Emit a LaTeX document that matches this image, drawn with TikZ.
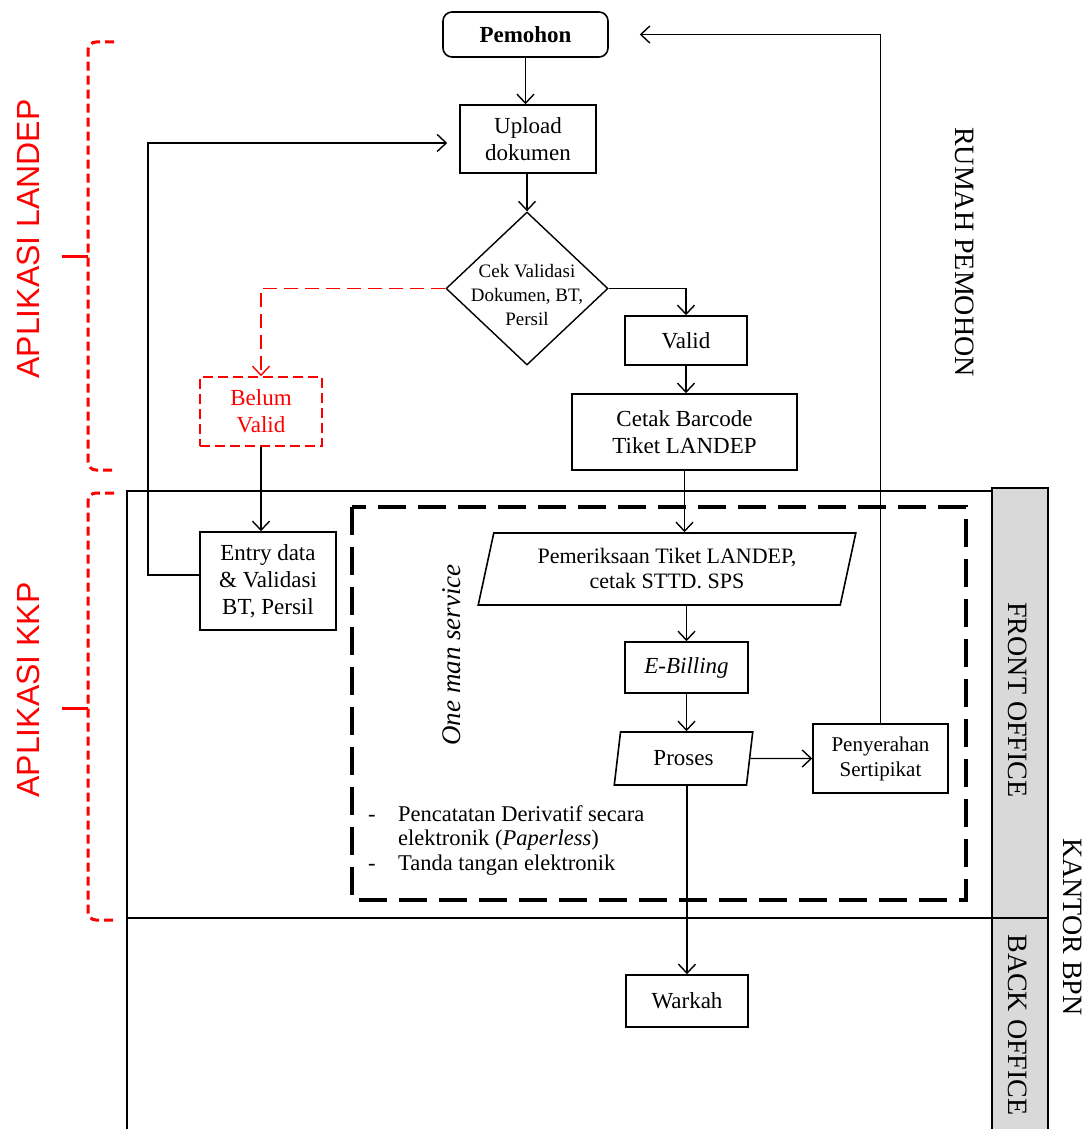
\documentclass[tikz,border=0pt]{standalone}
\usepackage{fontspec}
\setmainfont{Liberation Serif}
\newfontfamily\arialf{Liberation Sans}
\usetikzlibrary{shapes.geometric,arrows.meta}
\newcommand\fsz[2]{\fontsize{#1}{#2}\selectfont}
\begin{document}
\begin{tikzpicture}[x=1pt,y=-1pt,
  box/.style={draw, line width=1.6pt, inner sep=0pt, align=center, font=\fsz{23}{27}},
  rbox/.style={draw=red, text=red, line width=1.6pt, dash pattern=on 10pt off 5pt, inner sep=0pt, align=center, font=\fsz{23}{27}},
  para/.style={draw, line width=1.6pt, trapezium, trapezium stretches=true, inner sep=0pt, align=center, font=\fsz{22}{25}},
  arr/.style={line width=1.4pt, -{Straight Barb[length=9pt,width=17pt,line width=1.4pt]}},
  rarr/.style={arr, red, dash pattern=on 14pt off 7pt},
  lane/.style={line width=1.8pt},
  brk/.style={red, line width=3pt, dash pattern=on 9pt off 5pt, rounded corners=8pt},
  vlab/.style={font=\fsz{28}{32}, inner sep=0pt},
  alab/.style={red, font=\arialf\fsz{32}{36}, rotate=90, inner sep=0pt}
]
\useasboundingbox (0,0) rectangle (1091,1129);

% lanes
\draw[lane] (127,1135) -- (127,491) -- (992,491);
\draw[lane] (127,918) -- (992,918);
\draw[lane, fill=black!15] (992,488) rectangle (1048,1140);
\draw[lane] (992,918) -- (1048,918);

% one man service box
\draw[line width=3.2pt, dash pattern=on 28pt off 12pt] (352,507) rectangle (966,900);
\node[font=\itshape\fsz{27}{30}, rotate=90, inner sep=0pt] (oms) at (452,655) {One man service};

% brackets
\draw[brk] (114,42) -- (88,42) -- (88,470) -- (114,470);
\draw[red, line width=3pt] (88,256) -- (62,256);
\draw[brk] (114,493) -- (88,493) -- (88,920) -- (114,920);
\draw[red, line width=3pt] (88,708) -- (62,708);
\node[alab] (landep) at (28,239) {APLIKASI LANDEP};
\node[alab] (kkp) at (28,690) {APLIKASI KKP};

% side labels
\node[vlab, rotate=-90] (rumah) at (965,252) {RUMAH PEMOHON};
\node[vlab, rotate=-90] (front) at (1018,700) {FRONT OFFICE};
\node[vlab, rotate=-90] (back) at (1018,1025) {BACK OFFICE};
\node[vlab, rotate=-90] (kantor) at (1073,927) {KANTOR BPN};

% nodes
\node[box, rounded corners=9pt, minimum width=165pt, minimum height=45pt, font=\bfseries\fsz{23}{27}] (pemohon) at (525.5,34.5) {Pemohon};
\node[box, minimum width=136pt, minimum height=68pt] (upload) at (528,139) {Upload\\dokumen};
\node[diamond, draw, line width=1.4pt, minimum width=162pt, minimum height=153pt, inner sep=0pt] (dia) at (527,288.5) {};
\node[inner sep=0pt, align=center, font=\fsz{19}{24}] (diatext) at (527,295) {Cek Validasi\\Dokumen, BT,\\Persil};
\node[box, minimum width=122pt, minimum height=49pt] (valid) at (686,340.5) {Valid};
\node[box, minimum width=225pt, minimum height=76pt] (cetak) at (684.5,432) {Cetak Barcode\\Tiket LANDEP};
\node[rbox, minimum width=122pt, minimum height=69pt] (belum) at (261,411.5) {Belum\\Valid};
\node[box, minimum width=136pt, minimum height=98pt] (entry) at (268,581) {Entry data\\\& Validasi\\BT, Persil};
\node[para, trapezium left angle=74, trapezium right angle=106, minimum width=378pt, minimum height=72pt] (pem) at (667,569) {Pemeriksaan Tiket LANDEP,\\cetak STTD. SPS};
\node[box, minimum width=123pt, minimum height=51pt, font=\itshape\fsz{23}{27}] (ebill) at (686.5,667.5) {E-Billing};
\node[para, trapezium left angle=79, trapezium right angle=101, minimum width=139pt, minimum height=53pt, font=\fsz{23}{27}] (proses) at (683.5,758.5) {Proses};
\node[box, minimum width=135pt, minimum height=69pt, font=\fsz{21}{25}] (pen) at (880.5,758.5) {Penyerahan\\Sertipikat};
\node[box, minimum width=122pt, minimum height=52pt] (warkah) at (687,1001) {Warkah};
\node[anchor=north west, inner sep=0pt, font=\fsz{22.5}{24.5}, align=left] (bul) at (368,804)
  {\begin{tabular}{@{}p{30pt}@{}l@{}}
  - & Pencatatan Derivatif secara\\
    & elektronik (\textit{Paperless})\\
  - & Tanda tangan elektronik
  \end{tabular}};

% connectors
\coordinate (loopx) at (148,300);
\draw[arr] (pemohon.south) -- (pemohon.south |- upload.north);
\draw[arr] (upload.south -| dia.north) -- (dia.north);
\draw[arr] (dia.east) -| (valid.north);
\draw[rarr] (dia.west) -| (belum.north);
\draw[arr] (valid.south) -- (valid.south |- cetak.north);
\draw[arr] (belum.south) -- (belum.south |- entry.north);
\draw[arr, shorten >=12pt] ([yshift=6pt]entry.west) -| (loopx) |- ([yshift=-4pt]upload.west);
\draw[arr] (cetak.south) -- (cetak.south |- pem.north);
\draw[arr] (ebill.north |- pem.south) -- (ebill.north);
\draw[arr] (ebill.south) -- (ebill.south |- proses.north);
\draw[arr] (proses.east) -- (pen.west);
\draw[arr] (warkah.north |- proses.south) -- (warkah.north);
\draw[arr, shorten >=31pt] (pen.north) |- (pemohon.east);
\end{tikzpicture}
\end{document}
